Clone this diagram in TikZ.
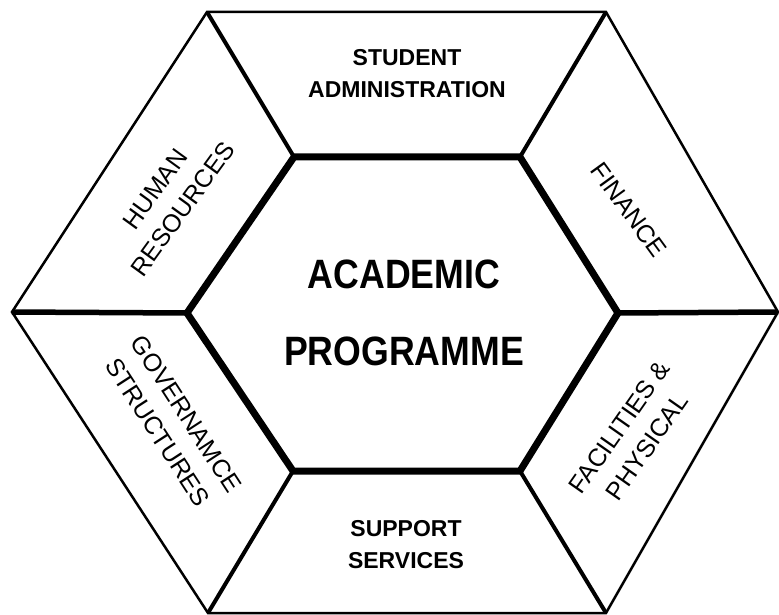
\documentclass[tikz,border=0pt]{standalone}
\usepackage{fontspec}
\setmainfont{Liberation Sans}
\newfontfamily\hubfont[FakeStretch = 0.87]{Liberation Sans}
\usepackage{tikz}

\begin{document}
\begin{tikzpicture}[x = 1pt, y = -1pt,
  outerline/.style = {line width = 2.5pt},
  spoke/.style = {line width = 4pt},
  flatspoke/.style = {line width = 5.5pt},
  innerline/.style = {line width = 7pt},
  sidetext/.style = {font = \fontsize{25}{34}\selectfont, align = center, inner sep = 0pt},
  paneltext/.style = {font = \bfseries\fontsize{23}{32}\selectfont, align = center, inner sep = 0pt},
  hubtext/.style = {font = \hubfont\bfseries\fontsize{41}{77}\selectfont, align = center, inner sep = 0pt}]
\useasboundingbox (0, 0) rectangle (779, 615);

% corners of the two hexagons
\coordinate (o1) at (207, 12);
\coordinate (o2) at (606, 12);
\coordinate (o3) at (778, 312);
\coordinate (o4) at (606, 613);
\coordinate (o5) at (208, 613);
\coordinate (o6) at (12, 312);
\coordinate (i1) at (294, 157);
\coordinate (i2) at (520, 157);
\coordinate (i3) at (618, 313);
\coordinate (i4) at (520, 471);
\coordinate (i5) at (293, 471);
\coordinate (i6) at (187, 313);

\draw[outerline] (o1) -- (o2) -- (o3) -- (o4) -- (o5) -- (o6) -- cycle;
\draw[spoke] (o1) -- (i1) (o2) -- (i2) (o4) -- (i4) (o5) -- (i5);
\draw[flatspoke] (o3) -- (i3) (o6) -- (i6);
\draw[innerline] (i1) -- (i2) -- (i3) -- (i4) -- (i5) -- (i6) -- cycle;

\node[hubtext] (academic) at (404, 313) {ACADEMIC\\PROGRAMME};
\node[paneltext] (student) at (407, 74) {STUDENT\\ADMINISTRATION};
\node[paneltext] (support) at (406, 545) {SUPPORT\\SERVICES};
\node[sidetext, rotate = 54] (human) at (169, 199) {HUMAN\\RESOURCES};
\node[sidetext, rotate = -54] (finance) at (629, 210) {FINANCE};
\node[sidetext, rotate = -57] (governance) at (172, 423) {GOVERNAMCE\\STRUCTURES};
\node[sidetext, rotate = 55] (facilities) at (633, 437) {FACILITIES \&\\PHYSICAL};
\end{tikzpicture}
\end{document}
